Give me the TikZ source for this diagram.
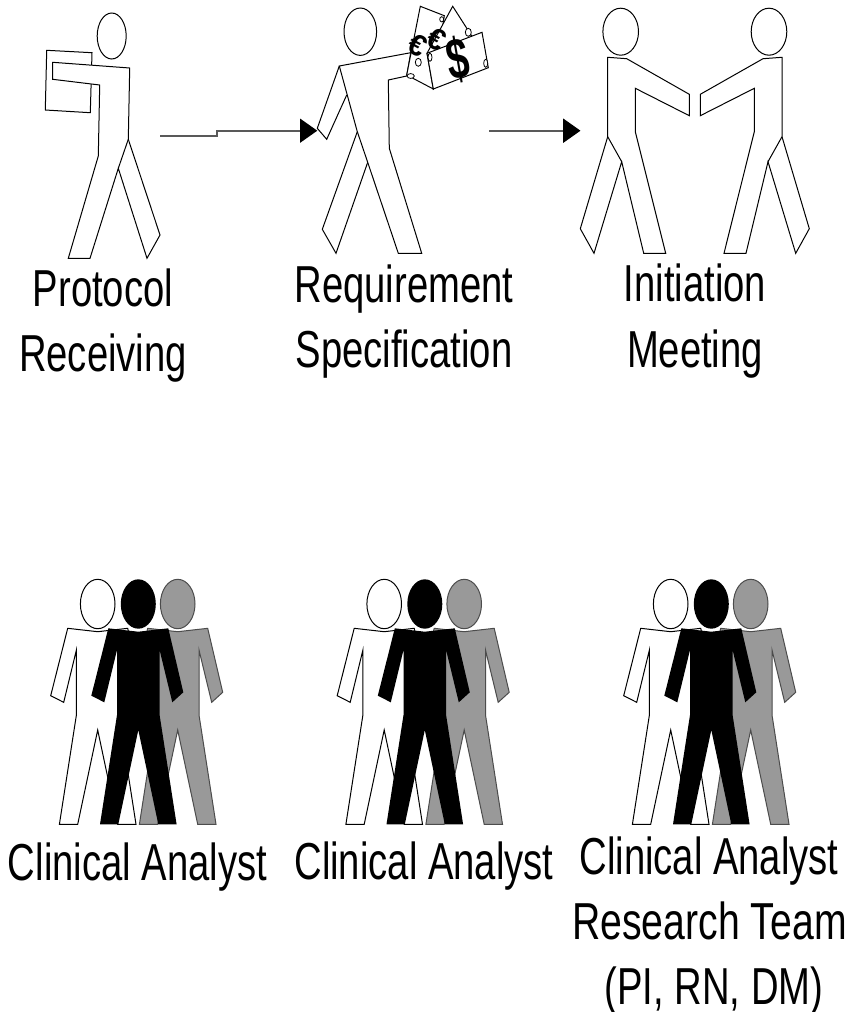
\documentclass[tikz,border=0pt]{standalone}
\usepackage{fontspec}
\setmainfont[FakeStretch=0.735]{Liberation Sans}
\newfontfamily\symfont{Liberation Sans}
\newfontfamily\narrowsym[FakeStretch=0.68]{Liberation Sans}
\usetikzlibrary{arrows.meta}
\tikzset{
  outline/.style={draw=black,line width=1pt,fill=white,line join=miter},
  label/.style={font=\fontsize{52}{60}\selectfont,anchor=base,inner sep=0pt,text=black},
  flow/.style={draw=black!65,line width=1.7pt,-{Triangle[length=17.3pt,width=24pt,color=black]}},
  currency/.style={inner sep=0pt,text=black},
  hole/.style={draw=black,line width=.8pt,fill=white}
}
\begin{document}
\begin{tikzpicture}[x=1pt,y=-1pt]
\useasboundingbox (0,0) rectangle (862,1012);
\fill[white] (0,0) rectangle (862,1012);

% --- Protocol receiving figure
\draw[line width=1pt,fill=white] (46.7,50.3) -- (92,52.7) -- (90.3,112.7) -- (45.3,110) -- cycle;
\draw[outline] (111.7,36) ellipse [x radius=14.5,y radius=23];
\draw[outline] (52.7,62.3) -- (129.7,68) -- (128.3,139.3) -- (160,235) -- (147,258.3) -- (118.3,168.3)
  -- (90,258.3) -- (68.3,258.3) -- (98.3,156) -- (99.7,85) -- (52.7,79.3) -- cycle;
\draw[line width=1pt] (128.3,139.3) -- (118.3,168.3);

% --- Requirement specification figure
\draw[outline] (360.3,31.7) ellipse [x radius=16.3,y radius=23.7];
\draw[outline] (339.3,66) -- (317.3,128.3) -- (326.7,139.3) -- (346.7,95);
\draw[outline] (357.3,131.7) -- (322.3,229.3) -- (336,253.3) -- (367.7,162.3);
\draw[outline] (339.3,66) -- (410.7,52.7) -- (406.7,76) -- (388.3,80) -- (389.3,148.3) -- (421.7,253.3)
  -- (398.3,253.3) -- (367.7,162.3) -- (357.3,131.7) -- cycle;
% money
\draw[outline] (420.3,6.3) -- (444.3,15.7) -- (433.3,89) -- (406.7,75) -- cycle;
\draw[outline] (452.7,6.3) -- (473,38) -- (433.3,89) -- (427,53.3) -- cycle;
\draw[outline] (427,53.3) -- (482,32.3) -- (488.3,67.7) -- (433.3,89) -- cycle;
\draw[hole] (410.7,76) ellipse [x radius=3.6,y radius=2.4];
\draw[hole] (418.3,62.3) ellipse [x radius=3,y radius=4];
\draw[hole] (430,57.3) ellipse [x radius=2,y radius=4];
\draw[hole] (468.3,32.3) ellipse [x radius=3,y radius=4];
\draw[hole] (485.7,63.3) ellipse [x radius=2,y radius=4];
\draw[hole] (441.7,19.3) ellipse [x radius=2,y radius=2.6];
\node[currency,font=\symfont\bfseries\fontsize{30}{30}\selectfont,rotate=-28] (euroa) at (418,45) {€};
\node[currency,font=\symfont\bfseries\fontsize{30}{30}\selectfont,rotate=-28] (eurob) at (437,39.5) {€};
\node[currency,font=\narrowsym\bfseries\fontsize{58}{58}\selectfont,rotate=10] (dollar) at (457.5,60) {\$};

% --- Initiation meeting figures
\draw[outline] (620.7,31.7) ellipse [x radius=17.8,y radius=23.5];
\draw[outline] (607.7,57.3) -- (626.7,58.7) -- (689.3,94.3) -- (689.3,115.7) -- (635.3,88.3) -- (635.3,131.7)
  -- (665.7,253.3) -- (643.7,253.3) -- (621.7,161.7) -- (594,253.3) -- (580.3,228.7) -- (607.7,136.7) -- cycle;
\draw[line width=1pt] (607.7,136.7) -- (621.7,161.7);
\draw[outline] (769,31.7) ellipse [x radius=17.8,y radius=23.5];
\draw[outline] (782,57.3) -- (763,58.7) -- (700.3,94.3) -- (700.3,115.7) -- (754.3,88.3) -- (754.3,131.7)
  -- (724,253.3) -- (746,253.3) -- (768,161.7) -- (795.7,253.3) -- (809.3,228.7) -- (782,136.7) -- cycle;
\draw[line width=1pt] (782,136.7) -- (768,161.7);

% --- Teams
\foreach \ox in {0,286.5,573}{
  \begin{scope}[xshift=\ox pt]
    \draw[outline] (97.7,604) ellipse [x radius=17.3,y radius=24.7];
    \draw[line width=1pt,fill=white] (97.7,0) ++(-30,628.3) -- ++(30,3.4) -- ++(30,-3.4) -- ++(15,64) -- ++(-11,10) -- ++(-12.7,-52.3) -- ++(0,65) -- ++(17,109.3) -- ++(-18.3,0) -- ++(-20,-94.3) -- ++(-20,94.3) -- ++(-18.3,0) -- ++(17,-109.3) -- ++(0,-65) -- ++(-12.7,52.3) -- ++(-13,-6.6) -- cycle;
    \draw[line width=1pt,draw=black!70,fill=black!40] (177.7,604) ellipse [x radius=17.3,y radius=24.7];
    \draw[line width=1pt,draw=black!70,fill=black!40] (177.7,0) ++(-30,628.3) -- ++(30,3.4) -- ++(30,-3.4) -- ++(15,64) -- ++(-11,10) -- ++(-12.7,-52.3) -- ++(0,65) -- ++(17,109.3) -- ++(-18.3,0) -- ++(-20,-94.3) -- ++(-20,94.3) -- ++(-18.3,0) -- ++(17,-109.3) -- ++(0,-65) -- ++(-12.7,52.3) -- ++(-13,-6.6) -- cycle;
    \fill[black] (138.3,604) ellipse [x radius=17.5,y radius=24.7];
    \fill[black] (138.3,0) ++(-30,628.3) -- ++(30,3.4) -- ++(30,-3.4) -- ++(15,64) -- ++(-11,10) -- ++(-12.7,-52.3) -- ++(0,65) -- ++(17,109.3) -- ++(-18.3,0) -- ++(-20,-94.3) -- ++(-20,94.3) -- ++(-18.3,0) -- ++(17,-109.3) -- ++(0,-65) -- ++(-12.7,52.3) -- ++(-13,-6.6) -- cycle;
  \end{scope}
}

% --- Connectors
\coordinate (astart) at (160,135.7);
\coordinate (abend) at (217.3,135.7);
\coordinate (aend) at (317.3,130.7);
\coordinate (bstart) at (489,130.7);
\coordinate (bend) at (580.5,130.7);
\draw[flow] (astart) -- (abend) |- (aend);
\draw[flow] (bstart) -- (bend);

% --- Labels
\node[label] (l1a) at (103,306.5) {Protocol};
\node[label] (l1b) at (103,371.5) {Receiving};
\node[label] (l2a) at (404,302.5) {Requirement};
\node[label] (l2b) at (404,367.5) {Specification};
\node[label] (l3a) at (695,301.5) {Initiation};
\node[label] (l3b) at (695,367.5) {Meeting};
\node[label] (l4) at (137.5,880) {Clinical Analyst};
\node[label] (l5) at (424,879) {Clinical Analyst};
\node[label] (l6a) at (709,874) {Clinical Analyst};
\node[label] (l6b) at (709.5,939) {\scalebox{1.025}[1]{Research Team}};
\node[label] (l6c) at (714,1004) {(PI, RN, DM)};
\end{tikzpicture}
\end{document}
